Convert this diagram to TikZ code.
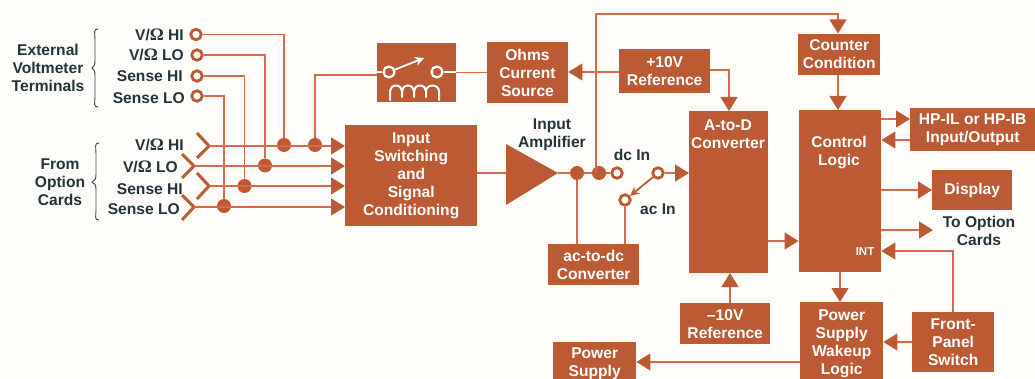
\documentclass[tikz,border=0pt]{standalone}
\usepackage{fontspec}
\setmainfont{Liberation Sans}
\newfontfamily\serifb{Liberation Serif}
\usetikzlibrary{arrows.meta}
\definecolor{boxc}{HTML}{BC5A34}
\definecolor{linec}{HTML}{D8694A}
\definecolor{txtc}{HTML}{22343A}
\definecolor{brA}{HTML}{4A3A44}
\definecolor{brB}{HTML}{2F5A4A}
\definecolor{bgc}{HTML}{FEFDFA}
\newcommand{\Om}{{\serifb\bfseries\fontsize{17.5}{18}\selectfont Ω}}
\tikzset{
 x=1pt,y=-1pt,
 block/.style={fill=boxc,text=white,font=\fontsize{15.6}{18}\selectfont\bfseries,align=center,inner sep=0pt,anchor=north west},
 lab/.style={text=txtc,font=\fontsize{15.6}{18}\selectfont\bfseries,align=center,inner sep=0pt},
 tlab/.style={lab,anchor=east},
 wire/.style={draw=linec,line width=1.2pt},
 arr/.style={wire,-{Triangle[length=14pt,width=17pt,fill=boxc,color=boxc]}},
 dot/.style={circle,fill=boxc,minimum size=14pt,inner sep=0pt},
 ringn/.style={circle,draw=boxc,fill=bgc,line width=2.8pt,minimum size=10.5pt,inner sep=0pt},
 ringw/.style={circle,draw=white,fill=boxc,line width=2.2pt,minimum size=11pt,inner sep=0pt},
 chev/.style={draw=boxc,line width=3pt,fill=none},
 wh/.style={draw=white,line width=2pt},
 brace/.style={line width=0.9pt},
}
\newcommand{\blk}[6]{\node[block,minimum width=#3pt-#1pt,minimum height=#4pt-#2pt] (#5) at (#1,#2) {#6};}
\begin{document}
\begin{tikzpicture}
\path[use as bounding box,fill=bgc] (0,0) rectangle (1035,379);
\begin{scope}
\clip (0,0) rectangle (1035,379);
% blocks
\blk{376.5}{43}{455.5}{102}{relay}{}
\blk{486.5}{42}{568}{103}{ohms}{Ohms\\Current\\Source}
\blk{619}{49}{710}{93}{pref}{+10V\\Reference}
\blk{345}{125}{477}{226}{sw}{Input\\Switching\\and\\Signal\\Conditioning}
\blk{689}{111}{768}{273}{adc}{}
\blk{798}{33.5}{880}{75}{cnt}{Counter\\Condition}
\blk{798.5}{110}{881}{272}{ctl}{}
\blk{910}{108}{1035}{151}{hp}{HP-IL or HP-IB\\Input/Output}
\blk{932}{170}{1012}{210}{disp}{Display}
\blk{548}{244}{639}{285}{acdc}{ac-to-dc\\Converter}
\blk{680}{303}{770}{344}{nref}{--10V\\Reference}
\blk{800}{302}{883}{385}{wake}{Power\\Supply\\Wakeup\\Logic}
\blk{912}{312}{994}{372}{fp}{Front-\\Panel\\Switch}
\blk{553}{342}{636}{385}{ps}{Power\\Supply}
\node[block,anchor=center,fill=none] (adct) at (728,134) {A-to-D\\Converter};
\node[block,anchor=center,fill=none] (ctlt) at (839,153) {Control\\Logic};
\node[block,anchor=center,fill=none,font=\fontsize{11.5}{13}\selectfont\bfseries] (intl) at (865,252) {INT};
% amplifier
\fill[boxc] (506,144) coordinate (ampa) -- (506,205) -- (558,173) coordinate (ampo) -- cycle;
\coordinate (ampi) at (506,173);
% terminals
\node[ringn] (t1) at (196,34.5) {};
\node[ringn] (t2) at (197,55) {};
\node[ringn] (t3) at (197,76) {};
\node[ringn] (t4) at (197,96) {};
% dots
\node[dot] (d1) at (284,145) {};
\node[dot] (d5) at (315,145) {};
\node[dot] (d2) at (265,165.5) {};
\node[dot] (d3) at (244.5,186) {};
\node[dot] (d4) at (224,206) {};
\node[dot] (a1) at (577,173) {};
\node[dot] (a2) at (599,173) {};
\node[ringn] (dcr) at (617,173) {};
\node[ringn] (swr) at (658,173) {};
\node[ringn] (acr) at (625,200) {};
% chevrons
\coordinate (c1) at (209,146);
\coordinate (c2) at (194,166);
\coordinate (c3) at (209,186);
\coordinate (c4) at (194,207);
\draw[chev] (197,133) -- (c1) -- (197,158);
\draw[chev] (182,154) -- (c2) -- (182,178);
\draw[chev] (197,173) -- (c3) -- (197,199);
\draw[chev] (182,195) -- (c4) -- (182,220);
% terminal wires
\draw[wire] (t1) -- (d1.center |- t1) -- (d1);
\draw[wire] (t2) -- (d2.center |- t2) -- (d2);
\draw[wire] (t3) -- (d3.center |- t3) -- (d3);
\draw[wire] (t4) -- (d4.center |- t4) -- (d4);
\draw[wire] (d5) -- (315,75) -- (relay.west |- 0,75);
% input wires
\draw[arr] (c1) -- (sw.west |- c1);
\draw[arr] (c2) -- (sw.west |- c2);
\draw[arr] (c3) -- (sw.west |- c3);
\draw[arr] (c4) -- (sw.west |- c4);
% relay
\draw[wire] (relay.east |- 0,72.5) -- (ohms.west |- 0,72.5);
\draw[arr] (pref.west |- 0,72) -- (ohms.east |- 0,72);
\node[ringw] (r1) at (389,72) {};
\node[ringw] (r2) at (437,72) {};
\draw[wh] (relay.west |- r1) -- (r1);
\draw[wh] (r2) -- (relay.east |- r2);
\draw[white,line width=1.8pt,-{Stealth[length=9pt,width=9pt]}] (r1) -- (424,58);
\draw[wh,line join=round,line cap=round] (390,100) -- (390,91) arc (180:360:6 and 5.5) -- (402,97) (402,91) arc (180:360:6 and 5.5) -- (414,97) (414,91) arc (180:360:6 and 5.5) -- (426,97) (426,91) arc (180:360:6.5 and 5.5) -- (439,100);
% signal chain
\draw[wire] (sw.east |- ampi) -- (ampi);
\draw[wire] (ampo) -- (a1) -- (a2) -- (dcr);
\draw[wire] (a1) -- (a1 |- acdc.north);
\draw[wire] (acr) -- (acr |- acdc.north);
\draw[arr] (swr) -- (adc.west |- swr);
\draw[draw=boxc,line width=1.8pt,-{Stealth[length=9pt,width=9pt]}] (swr) -- (acr);
\draw[arr] (596,173) -- (596,14) -- (838,14) -- (838,33.5);
\draw[arr] (pref.east |- 0,70) -- (729,70) -- (729,111);
\draw[arr] (838,75) -- (838,110);
\draw[arr] (ctl.east |- 0,119) -- (hp.west |- 0,119);
\draw[arr] (hp.west |- 0,140) -- (ctl.east |- 0,140);
\draw[arr] (ctl.east |- 0,190) -- (disp.west |- 0,190);
\coordinate (optc) at (933,230);
\draw[arr] (ctl.east |- optc) -- (optc);
\draw[arr] (adc.east |- 0,241) -- (ctl.west |- 0,241);
\draw[arr] (953,312) -- (953,251) -- (ctl.east |- 0,251);
\draw[arr] (840,272) -- (840,302);
\draw[arr] (730,303) -- (730,273);
\draw[arr] (fp.west |- 0,342) -- (wake.east |- 0,342);
\draw[arr] (wake.west |- 0,362) -- (ps.east |- 0,362);
\end{scope}
% labels
\node[tlab] (l1) at (184,35) {V/\Om\ HI};
\node[tlab] (l2) at (184,55) {V/\Om\ LO};
\node[tlab] (l3) at (183,76) {Sense HI};
\node[tlab] (l4) at (185,98) {Sense LO};
\node[tlab] (l5) at (184,145) {V/\Om\ HI};
\node[tlab] (l6) at (178,167) {V/\Om\ LO};
\node[tlab] (l7) at (183,189) {Sense HI};
\node[tlab] (l8) at (180,209) {Sense LO};
\node[lab] (ext) at (48,68) {External\\Voltmeter\\Terminals};
\node[lab] (opt) at (60,182) {From\\Option\\Cards};
\node[lab] (amp) at (552,135) {Input\\Amplifier};
\node[lab] (dc) at (632,155) {dc In};
\node[lab] (ac) at (658,209.5) {ac In};
\node[lab] (toopt) at (979,230.5) {To Option\\Cards};
% braces
\draw[brace,brA] (98,29) .. controls (93,29) and (95,33) .. (95,40) -- (95,60) .. controls (95,65) and (94,67) .. (92,68) .. controls (94,69) and (95,71) .. (95,76) -- (95,97) .. controls (95,103) and (93,107) .. (98,107);
\draw[brace,brB] (99,143) .. controls (94,143) and (96,147) .. (96,154) -- (96,174) .. controls (96,179) and (95,181) .. (92,182) .. controls (95,183) and (96,185) .. (96,190) -- (96,210) .. controls (96,216) and (94,220) .. (99,220);
\end{tikzpicture}
\end{document}
